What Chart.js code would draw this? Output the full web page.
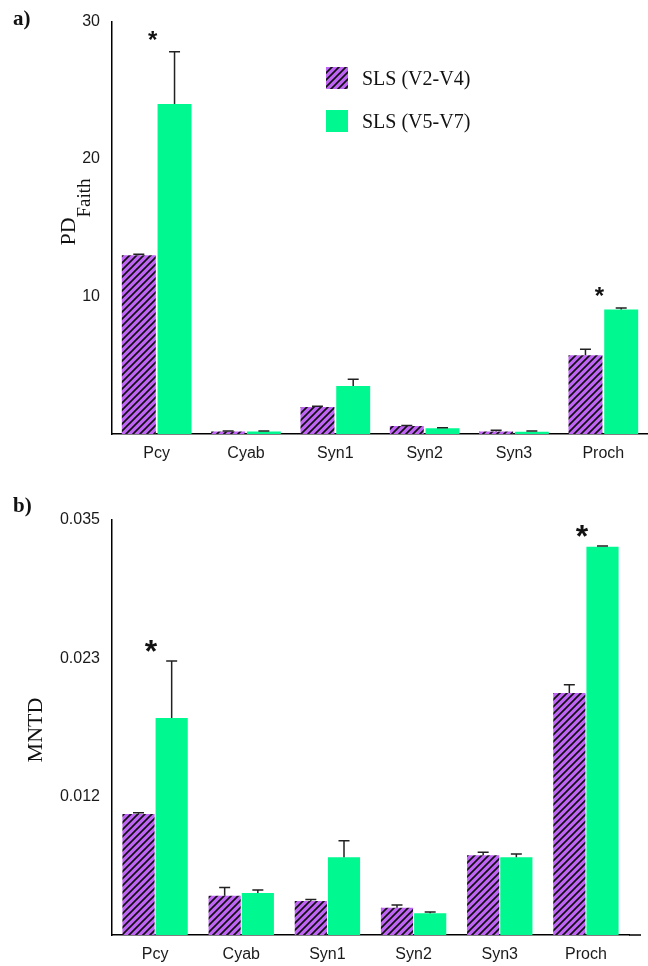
<!DOCTYPE html>
<html>
<head>
<meta charset="utf-8">
<script src="https://cdn.jsdelivr.net/npm/chart.js@4.4.0/dist/chart.umd.min.js"></script>
<style>
html, body { margin: 0; padding: 0; background: #fff; }
#wrap { position: relative; width: 648px; height: 966px; }
canvas { position: absolute; left: 0; }
</style>
</head>
<body>
<div id="wrap">
  <canvas id="chartA" width="648" height="483" style="top:0"></canvas>
  <canvas id="chartB" width="648" height="483" style="top:483px"></canvas>
</div>
<script>
var categories = ['Pcy', 'Cyab', 'Syn1', 'Syn2', 'Syn3', 'Proch'];
var seriesNames = ['SLS (V2-V4)', 'SLS (V5-V7)'];

// a) PD Faith
var pdV24    = [13.0, 0.19, 1.96, 0.58, 0.18, 5.72];
var pdV24Err = [0.08, 0.03, 0.06, 0.03, 0.10, 0.44];
var pdV57    = [24.0, 0.19, 3.50, 0.41, 0.17, 9.06];
var pdV57Err = [3.8, 0.03, 0.49, 0.04, 0.04, 0.10];
var pdSig    = [true, false, false, false, false, true];
var pdTicks      = [0, 10, 20, 30];
var pdTickLabels = ['', '10', '20', '30'];

// b) MNTD
var mntdV24    = [0.0102, 0.0033, 0.00287, 0.0023, 0.00672, 0.0204];
var mntdV24Err = [0.0001, 0.0007, 0.00013, 0.00023, 0.00025, 0.0007];
var mntdV57    = [0.0183, 0.00354, 0.00655, 0.00183, 0.00655, 0.03275];
var mntdV57Err = [0.0048, 0.00026, 0.0014, 0.0001, 0.00028, 0.00005];
var mntdSig    = [true, false, false, false, false, true];
var mntdTicks      = [0, 0.035 / 3, 0.07 / 3, 0.035];
var mntdTickLabels = ['', '0.012', '0.023', '0.035'];

var purple = '#c064f6';
var green = '#00f890';

function makeHatch() {
  var c = document.createElement('canvas');
  c.width = 7; c.height = 7;
  var g = c.getContext('2d');
  g.fillStyle = purple;
  g.fillRect(0, 0, 7, 7);
  g.strokeStyle = '#111';
  g.lineWidth = 1.7;
  g.beginPath();
  g.moveTo(-1, 8); g.lineTo(8, -1);
  g.moveTo(-1, 1); g.lineTo(1, -1);
  g.moveTo(6, 8); g.lineTo(8, 6);
  g.stroke();
  return g.createPattern(c, 'repeat');
}
var hatchFill = makeHatch();

// error bars + significance stars
var errorBars = {
  id: 'errorBars',
  afterDatasetsDraw: function(chart) {
    var ctx = chart.ctx, y = chart.scales.y;
    var o = chart.options.plugins.errorBars;
    var ds = chart.data.datasets;
    ctx.save();
    ctx.strokeStyle = '#222';
    ctx.lineWidth = 1.5;
    ds.forEach(function(d, di) {
      chart.getDatasetMeta(di).data.forEach(function(bar, i) {
        var top = y.getPixelForValue(d.data[i]);
        var end = y.getPixelForValue(d.data[i] + d.errors[i]);
        ctx.beginPath();
        ctx.moveTo(bar.x, top); ctx.lineTo(bar.x, end);
        ctx.moveTo(bar.x - 5.5, end); ctx.lineTo(bar.x + 5.5, end);
        ctx.stroke();
      });
    });
    ctx.fillStyle = '#111';
    ctx.font = 'bold ' + o.starSize + 'px "Liberation Sans"';
    ctx.textAlign = 'center';
    ctx.textBaseline = 'alphabetic';
    o.sig.forEach(function(s, i) {
      if (!s) return;
      var b0 = chart.getDatasetMeta(0).data[i], b1 = chart.getDatasetMeta(1).data[i];
      var hi = Math.max(ds[0].data[i] + ds[0].errors[i], ds[1].data[i] + ds[1].errors[i]);
      var cy = y.getPixelForValue(hi) - 17;
      ctx.fillText('*', (b0.x + b1.x) / 2 - 4, cy + o.starSize * 0.55);
    });
    ctx.restore();
  }
};

// panel letter, axis title, legend
var deco = {
  id: 'deco',
  afterDraw: function(chart) {
    var ctx = chart.ctx, o = chart.options.plugins.deco, a = chart.chartArea;
    ctx.save();
    ctx.fillStyle = '#111';
    ctx.font = 'bold 21px "Liberation Serif"';
    ctx.textBaseline = 'alphabetic';
    ctx.textAlign = 'left';
    ctx.fillText(o.letter, 13, o.letterY);

    // y title
    ctx.save();
    ctx.translate(o.titleX, o.titleY);
    ctx.rotate(-Math.PI / 2);
    ctx.font = '22px "Liberation Serif"';
    ctx.textAlign = 'left';
    var w = ctx.measureText(o.title).width;
    var sw = 0;
    if (o.sub) {
      ctx.font = '19px "Liberation Serif"';
      sw = ctx.measureText(o.sub).width;
    }
    var start = -(w + sw) / 2;
    ctx.font = '22px "Liberation Serif"';
    ctx.fillText(o.title, start, 0);
    if (o.sub) {
      ctx.font = '19px "Liberation Serif"';
      ctx.fillText(o.sub, start + w, 15);
    }
    ctx.restore();

    // x axis line runs on past the last group
    if (o.axisExtend) {
      ctx.strokeStyle = '#000';
      ctx.lineWidth = 1.5;
      ctx.beginPath();
      ctx.moveTo(a.right, a.bottom);
      ctx.lineTo(a.right + o.axisExtend, a.bottom);
      ctx.stroke();
    }

    if (o.legend) {
      var fills = [hatchFill, green];
      ctx.font = '20px "Liberation Serif"';
      ctx.textBaseline = 'middle';
      seriesNames.forEach(function(n, i) {
        var by = 67 + i * 43;
        ctx.fillStyle = fills[i];
        ctx.fillRect(326, by, 22, 22);
        ctx.fillStyle = '#111';
        ctx.fillText(n, 362, by + 13);
      });
    }
    ctx.restore();
  }
};

function makeChart(id, cfg) {
  return new Chart(document.getElementById(id), {
    type: 'bar',
    data: {
      labels: categories,
      datasets: [
        { label: seriesNames[0], data: cfg.v24, errors: cfg.e24, backgroundColor: hatchFill,
          borderWidth: 0, barPercentage: cfg.barPct, categoryPercentage: cfg.catPct },
        { label: seriesNames[1], data: cfg.v57, errors: cfg.e57, backgroundColor: green,
          borderWidth: 0, barPercentage: cfg.barPct, categoryPercentage: cfg.catPct }
      ]
    },
    options: {
      responsive: false,
      animation: false,
      devicePixelRatio: 1,
      layout: { padding: cfg.pad },
      plugins: {
        legend: { display: false },
        tooltip: { enabled: false },
        errorBars: { sig: cfg.sig, starSize: cfg.starSize },
        deco: cfg.deco
      },
      scales: {
        x: {
          grid: { display: false, drawTicks: false },
          border: { color: '#000', width: 1.5 },
          ticks: { color: '#1a1a1a', font: { family: 'Liberation Sans', size: 16 }, padding: 10 },
          afterFit: function(s) { s.height = cfg.xH; }
        },
        y: {
          min: 0, max: cfg.ticks[cfg.ticks.length - 1],
          grid: { display: false, drawTicks: false },
          border: { color: '#000', width: 1.5 },
          ticks: {
            color: '#1a1a1a', font: { family: 'Liberation Sans', size: 16 }, padding: 12,
            callback: function(v, i) { return cfg.tickLabels[i]; }
          },
          afterBuildTicks: function(s) { s.ticks = cfg.ticks.map(function(v) { return { value: v }; }); },
          afterFit: function(s) { s.width = 112; }
        }
      }
    },
    plugins: [errorBars, deco]
  });
}

makeChart('chartA', {
  v24: pdV24, e24: pdV24Err, v57: pdV57, e57: pdV57Err, sig: pdSig,
  ticks: pdTicks, tickLabels: pdTickLabels,
  barPct: 0.95, catPct: 0.8, starSize: 24,
  pad: { top: 20, right: 0, left: 0, bottom: 0 }, xH: 49,
  deco: { letter: 'a)', letterY: 25, title: 'PD', sub: 'Faith', titleX: 75, titleY: 212, legend: true, axisExtend: 0 }
});

makeChart('chartB', {
  v24: mntdV24, e24: mntdV24Err, v57: mntdV57, e57: mntdV57Err, sig: mntdSig,
  ticks: mntdTicks, tickLabels: mntdTickLabels,
  barPct: 0.97, catPct: 0.77, starSize: 32,
  pad: { top: 37, right: 19, left: 0, bottom: 0 }, xH: 31,
  deco: { letter: 'b)', letterY: 29, title: 'MNTD', sub: '', titleX: 42, titleY: 247, legend: false, axisExtend: 12 }
});
</script>
</body>
</html>
